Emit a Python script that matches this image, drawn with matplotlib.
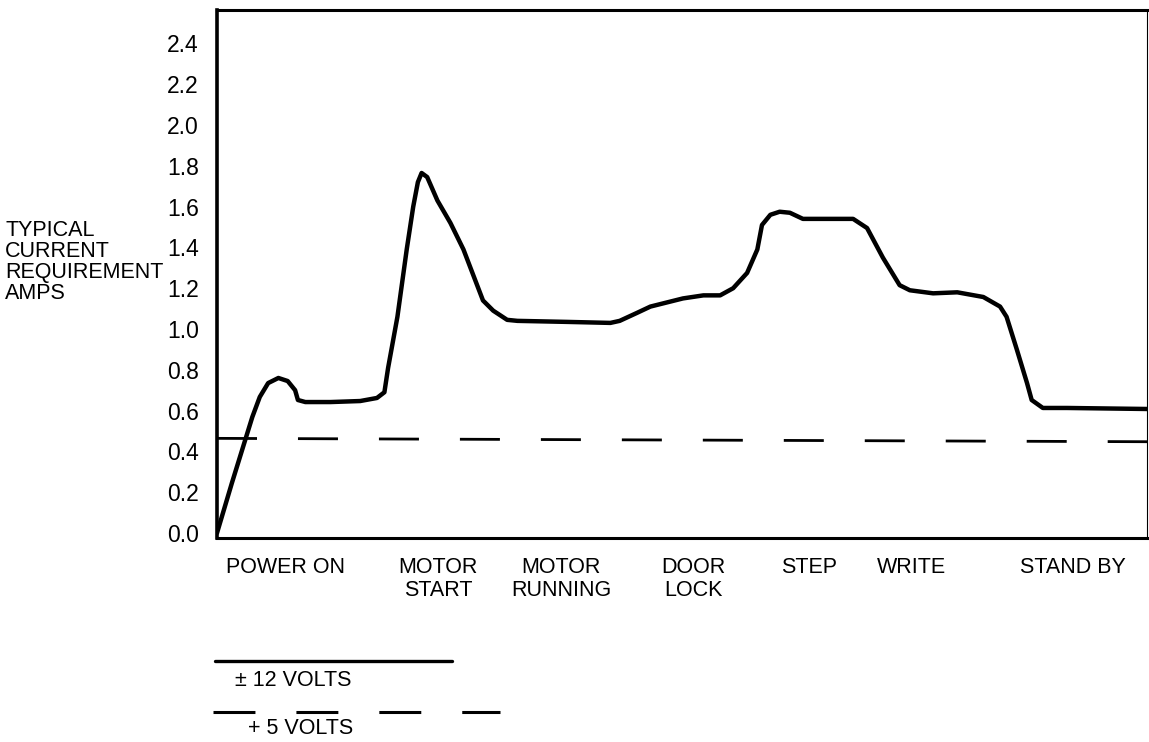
import matplotlib
matplotlib.use("Agg")
import matplotlib.pyplot as plt

plt.rcParams['font.family'] = ['Liberation Sans', 'DejaVu Sans']
plt.rcParams['lines.scale_dashes'] = False

# ---- data (time in arbitrary units 0..100, current in amps) ----
t_12v = [0, 1.6, 3.8, 4.6, 5.5, 6.6, 7.6, 8.4, 8.7, 9.5, 12.2, 15.4, 17.2, 18.0,
         18.4, 19.4, 20.4, 21.1, 21.6, 22.0, 22.6, 23.7, 25.1, 26.5, 28.6, 29.7,
         31.2, 32.3, 37.6, 42.3, 43.3, 45.2, 46.6, 50.1, 52.3, 54.1, 55.5, 57.0,
         58.1, 58.6, 59.5, 60.5, 61.6, 63.0, 66.2, 68.4, 69.9, 71.6, 73.4, 74.5,
         77.0, 79.6, 82.4, 84.2, 84.9, 86.0, 87.1, 87.6, 88.8, 91.4, 100]
amps_12v = [0, 0.245, 0.569, 0.667, 0.735, 0.76, 0.745, 0.70, 0.652, 0.642, 0.642,
            0.647, 0.662, 0.69, 0.81, 1.06, 1.39, 1.60, 1.72, 1.765, 1.745, 1.63,
            1.52, 1.39, 1.14, 1.09, 1.045, 1.04, 1.035, 1.03, 1.04, 1.08, 1.11,
            1.15, 1.165, 1.165, 1.20, 1.275, 1.39, 1.51, 1.56, 1.575, 1.57, 1.54,
            1.54, 1.54, 1.495, 1.35, 1.215, 1.19, 1.175, 1.18, 1.157, 1.11, 1.06,
            0.90, 0.735, 0.652, 0.613, 0.613, 0.608]
t_5v = [0, 100]
amps_5v = [0.464, 0.4475]

phase_pos = [7.4, 23.8, 37.0, 51.2, 63.7, 74.7, 92.0]
phase_labels = ["POWER ON", "MOTOR\nSTART", "MOTOR\nRUNNING", "DOOR\nLOCK",
                "STEP", "WRITE", "STAND BY"]
ytick_vals = [0.0, 0.2, 0.4, 0.6, 0.8, 1.0, 1.2, 1.4, 1.6, 1.8, 2.0, 2.2, 2.4]
ytick_labels = ["0.0", "0.2", "0.4", "0.6", "0.8", "1.0", "1.2", "1.4", "1.6",
                "1.8", "2.0", "2.2", "2.4"]
ylabel_text = "TYPICAL\nCURRENT\nREQUIREMENT\nAMPS"
legend_labels = ["\u00b1 12 VOLTS", "+ 5 VOLTS"]

FS = 15.5
W, H = 1149, 742
fig = plt.figure(figsize=(W / 100, H / 100), dpi=100)
L, R, T, B = 217, 1147, 10, 538
ax = fig.add_axes([L / W, 1 - B / H, (R - L) / W, (B - T) / H])

dash = (0, (28.8, 29.5))
ax.plot(t_12v, amps_12v, color='black', lw=3.2, solid_joinstyle='round',
        solid_capstyle='round')
ax.plot(t_5v, amps_5v, color='black', lw=2.0, linestyle=dash)

ax.set_xlim(0, 100)
ax.set_ylim(-0.0245, 2.564)

ax.set_yticks(ytick_vals)
ax.set_yticklabels(ytick_labels, fontsize=16.5)
ax.set_xticks(phase_pos)
ax.set_xticklabels(phase_labels, fontsize=FS, linespacing=1.12)
ax.tick_params(axis='y', length=0, pad=13)
ax.tick_params(axis='x', length=0, pad=14)

ax.spines['left'].set_linewidth(2.6)
for s in ['top', 'bottom']:
    ax.spines[s].set_linewidth(2.2)
ax.spines['right'].set_linewidth(0.8)

fig.text(5 / W, 1 - 262 / H, ylabel_text, fontsize=FS, ha='left', va='center',
         linespacing=0.98)

# legend drawn in a figure-wide overlay axes (pixel coordinates)
lax = fig.add_axes([0, 0, 1, 1])
lax.set_xlim(0, W)
lax.set_ylim(H, 0)
lax.axis('off')
lax.plot([215, 452], [661, 661], color='black', lw=2.4, solid_capstyle='round')
lax.text(235, 680, legend_labels[0], fontsize=FS, ha='left', va='center')
lax.plot([213, 500], [712, 712], color='black', lw=2.2, linestyle=(0, (30.2, 29.5)))
lax.text(248, 728, legend_labels[1], fontsize=FS, ha='left', va='center')

fig.savefig("out.png", dpi=100)
